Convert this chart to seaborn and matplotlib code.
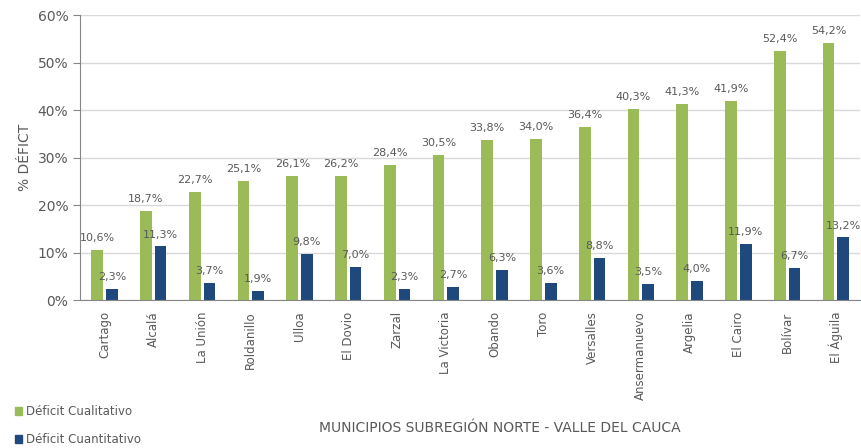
import numpy as np
import pandas as pd
import matplotlib.pyplot as plt
import seaborn as sns

# municipios y porcentajes
municipios = ['Cartago', 'Alcalá', 'La Unión', 'Roldanillo', 'Ulloa', 'El Dovio',
              'Zarzal', 'La Victoria', 'Obando', 'Toro', 'Versalles', 'Ansermanuevo',
              'Argelia', 'El Cairo', 'Bolívar', 'El Águila']
cualitativo = [10.6, 18.7, 22.7, 25.1, 26.1, 26.2, 28.4, 30.5, 33.8, 34.0, 36.4,
               40.3, 41.3, 41.9, 52.4, 54.2]
cuantitativo = [2.3, 11.3, 3.7, 1.9, 9.8, 7.0, 2.3, 2.7, 6.3, 3.6, 8.8,
                3.5, 4.0, 11.9, 6.7, 13.2]
series = ['Déficit Cualitativo', 'Déficit Cuantitativo']
y_ticks = [0, 10, 20, 30, 40, 50, 60]

colores = {'Déficit Cualitativo': '#9BBB59', 'Déficit Cuantitativo': '#1F497D'}
gris = '#595959'

df = pd.DataFrame({
    'municipio': municipios * 2,
    'valor': cualitativo + cuantitativo,
    'serie': [series[0]] * len(municipios) + [series[1]] * len(municipios),
})

sns.set_style('white')
plt.rcParams['font.family'] = ['DejaVu Sans']

fig = plt.figure(figsize=(8.62, 4.48), dpi=100)
ax = fig.add_axes([0.093, 0.330, 0.905, 0.636])

sns.barplot(data=df, x='municipio', y='valor', hue='serie', order=municipios,
            hue_order=series, palette=colores, width=0.6, gap=0.2,
            ax=ax, legend=False, saturation=1, linewidth=0)

# etiquetas de valor con coma decimal
for cont in ax.containers:
    for bar in cont:
        h = bar.get_height()
        ax.annotate(f'{h:.1f}%'.replace('.', ','),
                    (bar.get_x() + bar.get_width() / 2, h),
                    xytext=(0, 5), textcoords='offset points',
                    ha='center', va='bottom', fontsize=8, color=gris)

ax.set_xlim(-0.5, len(municipios) - 0.5)
ax.set_ylim(0, 60)
ax.set_yticks(y_ticks)
ax.set_yticklabels([f'{t}%' for t in y_ticks], fontsize=10, color=gris)
ax.yaxis.grid(True, color='#d9d9d9', linewidth=1)
ax.set_axisbelow(True)

ax.set_xticks(range(len(municipios)))
ax.set_xticklabels(municipios, rotation=90, fontsize=8.5, color=gris)
ax.set_xticks(np.arange(0.5, len(municipios) - 0.5, 1), minor=True)
ax.tick_params(axis='x', which='major', length=0, pad=8)
ax.tick_params(axis='x', which='minor', length=8, direction='inout', color='#868686')
ax.tick_params(axis='y', length=5, direction='out', color='#868686', left=True)

for s in ['top', 'right']:
    ax.spines[s].set_visible(False)
for s in ['left', 'bottom']:
    ax.spines[s].set_color('#868686')

ax.set_xlabel('')
ax.set_ylabel('% DÉFICT', fontsize=10, color=gris, labelpad=4)

fig.text(0.58, 0.045, 'MUNICIPIOS SUBREGIÓN NORTE - VALLE DEL CAUCA',
         ha='center', va='center', fontsize=10, color=gris)

handles = [plt.Rectangle((0, 0), 1, 1, color=colores[s]) for s in series]
fig.legend(handles, series, loc='lower left', bbox_to_anchor=(0.005, -0.02),
           frameon=False, handlelength=0.6, handleheight=0.6, handletextpad=0.3,
           labelspacing=1.3, fontsize=8.5, labelcolor=gris)

fig.savefig('out.png', dpi=100)
